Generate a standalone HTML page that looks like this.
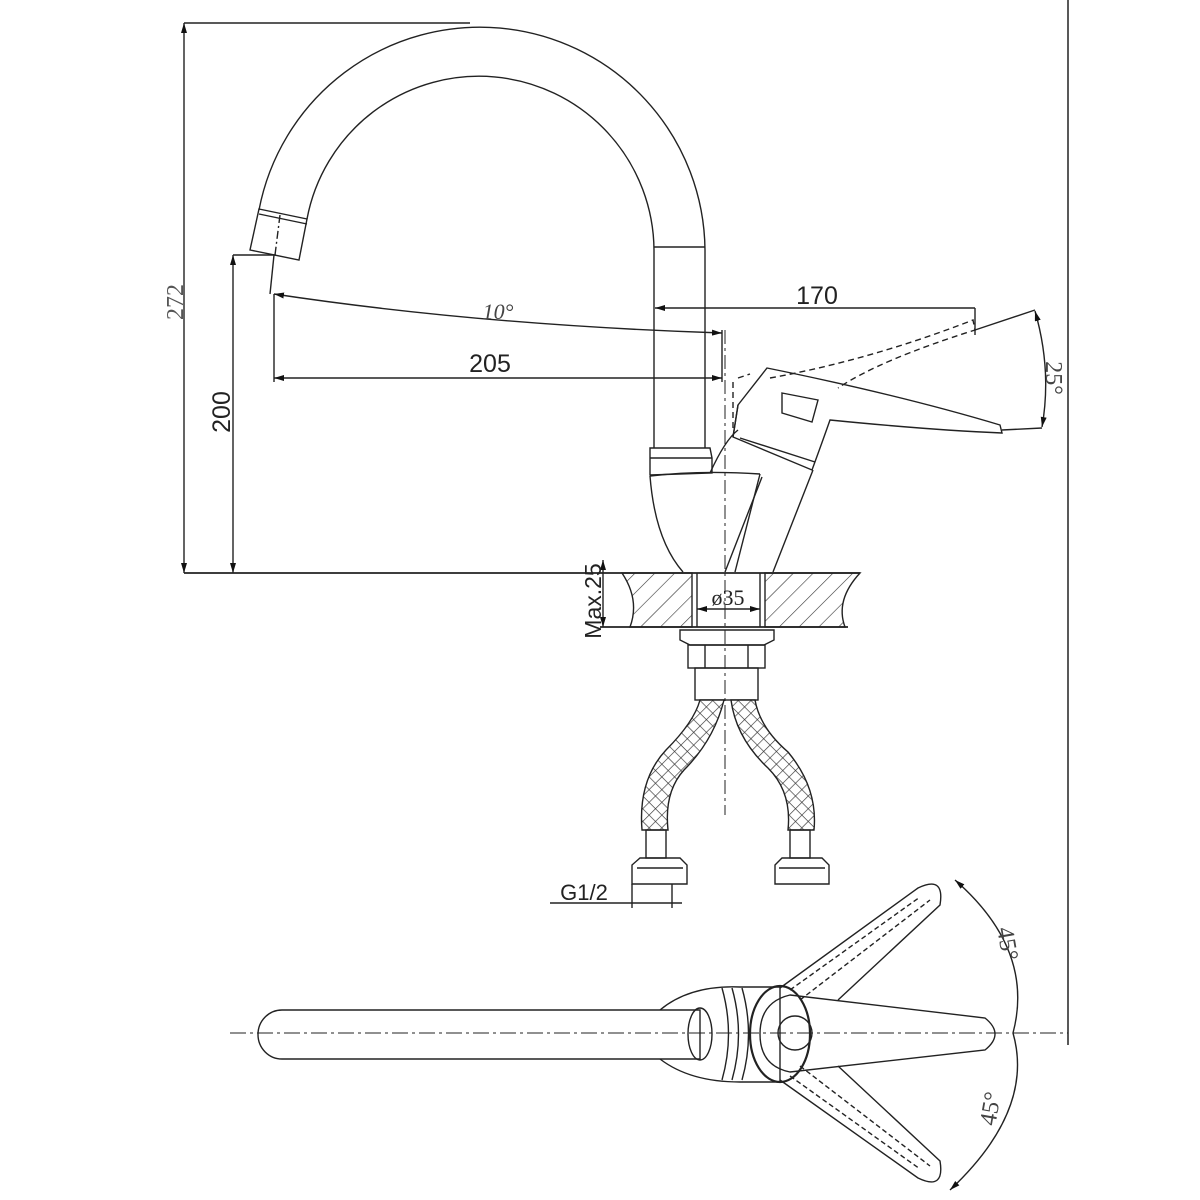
<!DOCTYPE html>
<html><head><meta charset="utf-8"><style>
html,body{margin:0;padding:0;background:#fff;}
svg{display:block;}
text{font-family:"Liberation Sans",sans-serif;fill:#222;}
</style></head><body>
<svg width="1200" height="1200" viewBox="0 0 1200 1200" xmlns="http://www.w3.org/2000/svg">
<defs>
<pattern id="hatch" width="14" height="14" patternUnits="userSpaceOnUse" patternTransform="rotate(45)">
<line x1="0" y1="0" x2="0" y2="14" stroke="#333" stroke-width="1.2"/>
</pattern>
<pattern id="braid" width="9" height="9" patternUnits="userSpaceOnUse" patternTransform="rotate(45)">
<rect width="9" height="9" fill="#fff"/>
<line x1="0" y1="0" x2="0" y2="9" stroke="#333" stroke-width="1.3"/>
<line x1="0" y1="0" x2="9" y2="0" stroke="#333" stroke-width="1.3"/>
</pattern>
<marker id="ar" viewBox="0 0 10 6" refX="10" refY="3" markerWidth="10" markerHeight="6" orient="auto-start-reverse" markerUnits="userSpaceOnUse">
<path d="M0,0 L10,3 L0,6 z" fill="#111"/>
</marker>
</defs>
<g fill="none" stroke="#222" stroke-width="1.4">
<line x1="1068" y1="0" x2="1068" y2="1045" stroke-width="1.5"/>

<!-- spout -->
<path d="M259,210 A225,225 0 0 1 705,250 L705,448"/>
<path d="M307,219 A175,175 0 0 1 654,250 L654,448"/>
<line x1="654" y1="247" x2="705" y2="247"/>
<path d="M259,209 L307,219 L299,260 L250,250 Z"/>
<line x1="259" y1="214" x2="307" y2="224"/>
<line x1="280" y1="215" x2="275" y2="255" stroke-dasharray="8,3,2,3"/>
<path d="M650,448 L710,448 L712,458 L712,473 L650,475 Z"/>
<line x1="650" y1="458" x2="712" y2="458"/>
<path d="M650,476 Q655,540 683,572"/>
<path d="M650,476 Q700,470 760,474"/>
<line x1="760" y1="474" x2="735" y2="572"/>
<line x1="762" y1="477" x2="725" y2="572"/>
<line x1="813" y1="470" x2="773" y2="572"/>
<path d="M710,473 Q725,440 738,430"/>
<path d="M738,405 L767,368 Q900,395 1000,425 L1002,433 Q930,430 830,420 Q823,440 812,470 L733,437 Z"/>
<line x1="733" y1="437" x2="738" y2="405"/>
<line x1="740" y1="438" x2="815" y2="462"/>
<path d="M782,393 L818,400 L812,422 L782,413 Z"/>
<path d="M770,378 Q870,360 973,320 L975,330 Q880,360 838,388" stroke-dasharray="6,4"/>
<path d="M738,378 L750,374 M733,382 L733,430" stroke-dasharray="6,4"/>

<!-- dimensions -->
<line x1="184" y1="23" x2="184" y2="573" marker-start="url(#ar)" marker-end="url(#ar)"/>
<line x1="184" y1="23" x2="470" y2="23"/>
<line x1="233" y1="255" x2="233" y2="573" marker-start="url(#ar)" marker-end="url(#ar)"/>
<line x1="233" y1="255" x2="276" y2="255"/>
<line x1="184" y1="573" x2="860" y2="573" stroke-width="1.7"/>
<line x1="274" y1="255" x2="270" y2="294"/>
<line x1="274" y1="294" x2="274" y2="382"/>
<path d="M274,294 Q480,325 722,333" marker-start="url(#ar)" marker-end="url(#ar)"/>
<line x1="722" y1="330" x2="722" y2="382"/>
<line x1="274" y1="378" x2="722" y2="378" marker-start="url(#ar)" marker-end="url(#ar)"/>
<line x1="655" y1="308" x2="975" y2="308" marker-start="url(#ar)"/>
<line x1="975" y1="308" x2="975" y2="335"/>
<line x1="975" y1="330" x2="1035" y2="310"/>
<line x1="1002" y1="430" x2="1042" y2="428"/>
<path d="M1035,311 Q1052,370 1042,427" marker-start="url(#ar)" marker-end="url(#ar)"/>

<line x1="725" y1="330" x2="725" y2="815" stroke-dasharray="14,4,3,4" stroke-width="1"/>

<!-- countertop -->
<path d="M622,573 Q640,600 630,627 L692,627 L692,573 Z" fill="url(#hatch)"/>
<path d="M765,573 L860,573 Q835,600 845,627 L765,627 Z" fill="url(#hatch)"/>
<line x1="600" y1="627" x2="848" y2="627" stroke-width="1.7"/>
<line x1="697" y1="573" x2="697" y2="627"/>
<line x1="760" y1="573" x2="760" y2="627"/>
<line x1="697" y1="609" x2="760" y2="609" marker-start="url(#ar)" marker-end="url(#ar)"/>
<line x1="603" y1="560" x2="603" y2="627" marker-start="url(#ar)" marker-end="url(#ar)"/>
<path d="M680,630 L774,630 L774,640 L764,645 L690,645 L680,640 Z"/>
<rect x="688" y="645" width="77" height="23"/>
<line x1="705" y1="645" x2="705" y2="668"/><line x1="748" y1="645" x2="748" y2="668"/>
<rect x="695" y="668" width="63" height="32"/>
<!-- hoses -->
<path d="M700,700 L724,700 Q714,740 684,770 Q664,792 668,830 L642,830 Q638,780 666,750 Q694,722 700,700 Z" fill="url(#braid)"/>
<path d="M731,700 L755,700 Q760,728 788,752 Q818,788 814,830 L788,830 Q792,792 768,768 Q736,738 731,700 Z" fill="url(#braid)"/>
<rect x="646" y="830" width="20" height="28"/>
<rect x="790" y="830" width="20" height="28"/>
<path d="M632,865 L640,858 L680,858 L687,865 L687,884 L632,884 Z"/>
<path d="M775,865 L782,858 L822,858 L829,865 L829,884 L775,884 Z"/>
<line x1="637" y1="868" x2="683" y2="868"/><line x1="779" y1="868" x2="825" y2="868"/>
<line x1="632" y1="884" x2="632" y2="908"/><line x1="672" y1="884" x2="672" y2="908"/>
<line x1="550" y1="903" x2="682" y2="903"/>

<!-- top view -->
<line x1="230" y1="1033" x2="1068" y2="1033" stroke-dasharray="16,4,3,4" stroke-width="1"/>
<path d="M282,1010 L700,1010 L700,1059 L282,1059 A24,24.5 0 0 1 282,1010 Z"/>
<path d="M660,1010 Q690,985 740,987 L780,987 L780,1082 L740,1082 Q690,1082 660,1059"/>
<ellipse cx="700" cy="1034" rx="12" ry="26"/>
<path d="M722,988 Q735,1034 722,1080"/><path d="M732,988 Q745,1034 732,1080"/><path d="M742,988 Q755,1034 742,1080"/>
<ellipse cx="780" cy="1034" rx="30" ry="48" stroke-width="2.2"/>
<path d="M790,995 L985,1018 Q1005,1034 985,1050 L790,1072 Q760,1066 760,1034 Q760,1002 790,995 Z"/>
<circle cx="795" cy="1033" r="17"/>
<path d="M780,988 L918,888 Q945,875 940,905 L838,1000"/>
<path d="M790,990 L920,897 M800,1000 L930,900" stroke-dasharray="5,3"/>
<path d="M780,1080 L918,1178 Q945,1191 940,1161 L838,1066"/>
<path d="M790,1076 L920,1169 M800,1066 L930,1166" stroke-dasharray="5,3"/>
<path d="M955,880 Q1035,950 1013,1033 Q1035,1110 950,1190" marker-start="url(#ar)" marker-end="url(#ar)"/>
</g>

<text x="0" y="0" transform="translate(183,302) rotate(-90)" font-size="24" text-anchor="middle" style="font-family:'Liberation Serif',serif;fill:#555">272</text>
<text x="0" y="0" transform="translate(230,412) rotate(-90)" font-size="25" text-anchor="middle">200</text>
<text x="498" y="319" font-size="22" text-anchor="middle" style="font-family:'Liberation Serif',serif;font-style:italic;fill:#444">10°</text>
<text x="490" y="372" font-size="25" text-anchor="middle">205</text>
<text x="817" y="304" font-size="25" text-anchor="middle">170</text>
<text x="0" y="0" transform="translate(1046,378) rotate(90)" font-size="24" text-anchor="middle" style="font-family:'Liberation Serif',serif;fill:#444">25°</text>
<text x="0" y="0" transform="translate(601,601) rotate(-90)" font-size="23" text-anchor="middle">Max.25</text>
<text x="728" y="605" font-size="22" text-anchor="middle" style="font-family:'Liberation Serif',serif">ø35</text>
<text x="584" y="900" font-size="22" text-anchor="middle">G1/2</text>
<text x="0" y="0" transform="translate(1000,945) rotate(80)" font-size="24" text-anchor="middle" style="font-family:'Liberation Serif',serif;fill:#444">45°</text>
<text x="0" y="0" transform="translate(998,1110) rotate(-80)" font-size="24" text-anchor="middle" style="font-family:'Liberation Serif',serif;fill:#444">45°</text>
</svg>
</body></html>
